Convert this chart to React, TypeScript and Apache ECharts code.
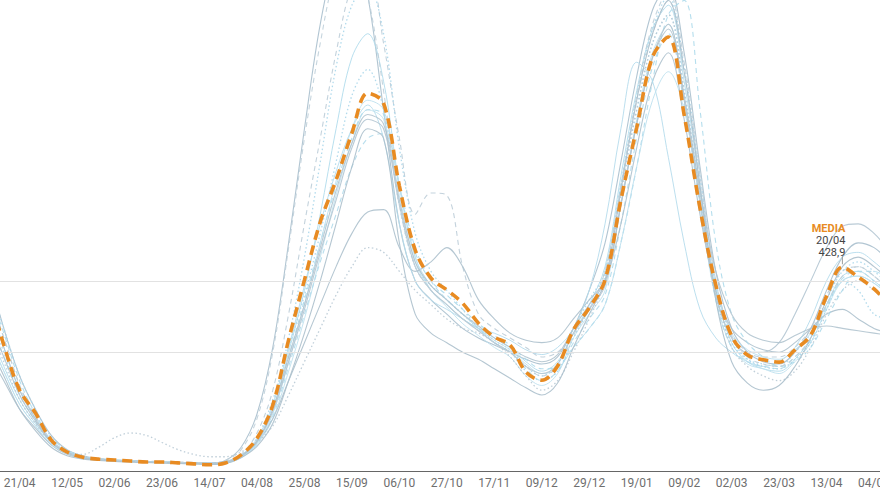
import React, { useEffect, useRef } from "react";
import * as echarts from "echarts";

const weeks = [
  "07/04", "14/04", "21/04", "28/04", "05/05", "12/05", "19/05", "26/05", "02/06", "09/06",
  "16/06", "23/06", "30/06", "07/07", "14/07", "21/07", "28/07", "04/08", "11/08", "18/08",
  "25/08", "01/09", "08/09", "15/09", "22/09", "29/09", "06/10", "13/10", "20/10", "27/10",
  "03/11", "10/11", "17/11", "24/11", "01/12", "09/12", "15/12", "22/12", "29/12", "05/01",
  "12/01", "19/01", "26/01", "02/02", "09/02", "16/02", "23/02", "02/03", "09/03", "16/03",
  "23/03", "30/03", "06/04", "13/04", "20/04", "27/04", "04/05", "11/05",
];

const media = [380, 265, 170, 122, 65, 40, 29, 25, 23, 21, 19, 19, 17, 15, 13, 17, 34, 69, 139, 276,
  402, 524, 612, 711, 795, 774, 600, 465, 406, 381, 353, 311, 282, 265, 208, 191, 221, 297, 343, 402,
  570, 722, 871, 913, 749, 553, 391, 284, 244, 234, 229, 255, 286, 368, 428.9, 408, 383, 349];

const s01 = [420, 300, 200, 130, 75, 45, 32, 26, 22, 20, 19, 18, 17, 16, 16, 22, 50, 120, 260, 480, 720, 940, 1080, 1120, 1000, 760, 520, 400, 360, 330, 300, 280, 265, 250, 235, 225, 240, 300, 380, 480, 650, 830, 970, 1020, 880, 640, 420, 300, 250, 230, 225, 250, 300, 380, 450, 480, 470, 440];
const s02 = [380, 280, 180, 110, 60, 38, 28, 24, 22, 22, 21, 20, 19, 18, 17, 20, 35, 80, 170, 330, 520, 700, 880, 1020, 1060, 900, 700, 540, 585, 580, 430, 330, 300, 280, 260, 240, 250, 290, 340, 420, 600, 780, 920, 990, 840, 620, 400, 290, 250, 240, 240, 260, 300, 370, 420, 430, 410, 380];
const s03 = [300, 220, 150, 100, 60, 40, 30, 26, 24, 22, 20, 19, 18, 17, 16, 18, 30, 60, 130, 250, 380, 540, 720, 870, 920, 820, 600, 450, 380, 350, 320, 300, 280, 260, 230, 210, 230, 290, 350, 430, 620, 800, 930, 980, 820, 600, 380, 270, 230, 215, 210, 235, 280, 350, 410, 420, 400, 370];
const s04 = [340, 250, 160, 110, 62, 40, 28, 24, 22, 20, 19, 18, 17, 16, 15, 18, 32, 70, 150, 260, 370, 500, 650, 790, 845, 760, 560, 430, 390, 360, 330, 300, 275, 255, 220, 200, 225, 300, 360, 420, 600, 760, 900, 960, 800, 580, 370, 270, 235, 225, 220, 250, 290, 360, 420, 440, 420, 390];
const s05 = [280, 210, 140, 95, 55, 36, 27, 23, 21, 20, 18, 17, 16, 15, 14, 16, 28, 55, 110, 210, 320, 450, 580, 690, 760, 740, 580, 440, 380, 345, 310, 285, 260, 240, 200, 180, 205, 280, 330, 380, 560, 740, 880, 940, 780, 560, 360, 260, 225, 215, 205, 230, 270, 340, 400, 410, 395, 365];
const s06 = [390, 290, 190, 120, 70, 44, 30, 25, 22, 20, 19, 19, 18, 17, 16, 18, 30, 58, 115, 220, 330, 440, 540, 640, 700, 710, 600, 470, 400, 360, 330, 300, 270, 250, 215, 190, 210, 270, 320, 370, 520, 700, 850, 920, 770, 560, 360, 260, 230, 220, 215, 240, 275, 345, 405, 420, 400, 375];
const s07 = [250, 190, 130, 90, 55, 35, 27, 24, 22, 21, 20, 19, 18, 18, 17, 20, 32, 60, 110, 190, 270, 350, 430, 500, 545, 550, 470, 420, 440, 470, 430, 360, 320, 290, 275, 270, 280, 320, 360, 400, 520, 680, 820, 880, 740, 540, 380, 300, 270, 255, 250, 270, 300, 330, 340, 320, 300, 290];
const s08 = [310, 230, 150, 100, 60, 40, 35, 50, 70, 80, 75, 60, 45, 35, 30, 30, 40, 60, 95, 160, 230, 300, 370, 430, 470, 460, 420, 380, 350, 320, 300, 290, 270, 240, 200, 170, 190, 250, 320, 400, 580, 760, 900, 960, 800, 580, 380, 260, 220, 200, 190, 210, 260, 330, 380, 400, 380, 350];
const s09 = [360, 260, 170, 115, 65, 42, 30, 25, 22, 21, 20, 19, 18, 17, 16, 19, 33, 68, 140, 260, 390, 520, 630, 720, 770, 700, 520, 400, 360, 340, 320, 300, 290, 275, 255, 245, 260, 300, 380, 520, 720, 860, 820, 660, 480, 340, 280, 250, 230, 220, 230, 260, 320, 400, 450, 460, 440, 410];
const s10 = [330, 240, 160, 105, 60, 38, 28, 24, 22, 21, 20, 19, 18, 17, 16, 18, 30, 62, 130, 240, 360, 480, 600, 700, 760, 750, 600, 460, 400, 370, 340, 310, 285, 265, 235, 215, 220, 260, 300, 350, 480, 640, 820, 960, 990, 760, 480, 330, 270, 240, 220, 230, 260, 320, 380, 420, 420, 400];
const s11 = [290, 210, 140, 95, 56, 37, 27, 23, 21, 20, 19, 18, 17, 16, 15, 17, 29, 58, 120, 230, 350, 480, 610, 720, 780, 760, 600, 450, 390, 360, 330, 300, 275, 255, 225, 205, 215, 260, 300, 350, 480, 640, 780, 840, 760, 580, 390, 290, 255, 240, 235, 255, 290, 350, 400, 410, 395, 370];
const s12 = [400, 300, 200, 130, 72, 44, 30, 25, 22, 20, 19, 18, 17, 16, 15, 17, 30, 65, 140, 280, 450, 650, 850, 980, 1020, 920, 680, 500, 420, 380, 340, 300, 270, 250, 210, 190, 210, 280, 340, 410, 600, 790, 930, 1000, 850, 620, 390, 280, 235, 220, 215, 235, 270, 340, 400, 380, 330, 320];
const s13 = [270, 200, 130, 85, 50, 32, 25, 22, 20, 19, 18, 17, 16, 15, 14, 16, 28, 52, 100, 190, 290, 400, 520, 640, 720, 700, 480, 330, 290, 270, 250, 235, 215, 195, 175, 160, 185, 260, 330, 400, 590, 780, 920, 990, 840, 600, 360, 230, 185, 170, 180, 220, 280, 360, 430, 450, 430, 400];
const s14 = [350, 260, 170, 110, 62, 40, 29, 24, 22, 20, 19, 18, 17, 16, 15, 17, 31, 62, 125, 230, 340, 460, 570, 680, 740, 720, 560, 430, 380, 350, 320, 295, 270, 250, 220, 205, 225, 290, 340, 390, 560, 730, 870, 930, 780, 570, 370, 280, 250, 250, 270, 330, 400, 470, 515, 520, 500, 460];
const s15 = [320, 240, 160, 105, 60, 38, 28, 24, 22, 20, 19, 18, 17, 16, 15, 18, 32, 64, 130, 240, 350, 470, 590, 690, 750, 730, 570, 440, 390, 360, 330, 305, 280, 260, 240, 230, 245, 300, 350, 400, 560, 730, 870, 940, 790, 590, 420, 330, 290, 275, 270, 285, 300, 305, 300, 295, 290, 285];
const s16 = [380, 280, 180, 115, 65, 40, 30, 26, 23, 21, 20, 19, 18, 18, 17, 22, 45, 110, 250, 470, 700, 900, 1050, 1100, 1000, 800, 560, 430, 380, 350, 320, 295, 270, 250, 220, 200, 220, 285, 345, 420, 600, 790, 940, 1010, 860, 630, 400, 285, 240, 225, 220, 240, 280, 350, 410, 430, 410, 380];

const seasons = [s01, s02, s03, s04, s05, s06, s07, s08, s09, s10, s11, s12, s13, s14, s15, s16];
const seasonNames = ["T01", "T02", "T03", "T04", "T05", "T06", "T07", "T08", "T09", "T10", "T11", "T12", "T13", "T14", "T15", "T16"];
const thresholds = [250, 400];

const styles: { color: string; type: any; width: number }[] = [
  { color: "#a9bfcd", type: "solid", width: 1.1 },
  { color: "#bccdd8", type: [5, 4], width: 1.1 },
  { color: "#b0dbec", type: "solid", width: 1 },
  { color: "#a9d6ea", type: [1.5, 2.5], width: 1.3 },
  { color: "#bfe1ee", type: "solid", width: 1 },
  { color: "#b0daeb", type: [5, 4], width: 1.1 },
  { color: "#adc1cd", type: "solid", width: 1.1 },
  { color: "#b9cad5", type: [1.5, 2.5], width: 1.3 },
  { color: "#b5dcec", type: "solid", width: 1 },
  { color: "#addaeb", type: [5, 4], width: 1.1 },
  { color: "#bde0ee", type: "solid", width: 1 },
  { color: "#a8d6ea", type: [1.5, 2.5], width: 1.3 },
  { color: "#acc0cc", type: "solid", width: 1.1 },
  { color: "#b3c5d1", type: "solid", width: 1.1 },
  { color: "#b1c4cf", type: "solid", width: 1.1 },
  { color: "#c0d0da", type: [5, 4], width: 1.1 },
];

export default function App() {
  const ref = useRef<HTMLDivElement>(null);
  useEffect(() => {
    if (!ref.current) return;
    const chart = echarts.init(ref.current, null, { renderer: "svg" });
    const series: any[] = [
      {
        name: "umbral",
        type: "line",
        data: [],
        z: 1,
        silent: true,
        markLine: {
          silent: true,
          symbol: "none",
          label: { show: false },
          lineStyle: { color: "#e2e2e2", type: "solid", width: 1 },
          data: thresholds.map((v) => ({ yAxis: v })),
        },
      },
      ...seasons.map((d, i) => ({
        name: seasonNames[i],
        type: "line",
        data: d,
        smooth: 0.35,
        symbol: "none",
        z: 2,
        lineStyle: { color: styles[i].color, type: styles[i].type, width: styles[i].width, opacity: 0.9 },
      })),
      {
        name: "MEDIA",
        type: "line",
        data: media,
        smooth: 0.35,
        symbol: "none",
        z: 5,
        lineStyle: { color: "#e88b22", width: 3.6, type: [10, 6] },
        markPoint: {
          symbol: "rect",
          symbolSize: [1, 8],
          symbolOffset: [0, -7],
          itemStyle: { color: "#9a9a9a" },
          data: [
            {
              coord: [54, 428.9],
              label: {
                show: true,
                position: "top",
                distance: 1,
                align: "right",
                offset: [3, 3],
                formatter: "{a|MEDIA}\n{b|20/04}\n{b|428,9}",
                rich: {
                  a: { color: "#e88b22", fontWeight: "bold", fontSize: 11, fontFamily: "Roboto", lineHeight: 12, align: "right" },
                  b: { color: "#444", fontSize: 11, fontFamily: "Roboto", lineHeight: 12, align: "right" },
                },
              },
            },
          ],
        },
      },
    ];
    chart.setOption({
      animation: false,
      grid: { left: 0, right: 0, top: 0.7, bottom: 24, containLabel: false },
      xAxis: {
        type: "category",
        data: weeks,
        boundaryGap: false,
        axisLine: { lineStyle: { color: "#666", width: 1 } },
        axisTick: { show: false },
        axisLabel: {
          interval: (idx: number) => (idx - 2) % 3 === 0,
          color: "#6e6e6e",
          fontSize: 12,
          fontFamily: "Roboto",
          margin: 6,
        },
        splitLine: { show: false },
      },
      yAxis: {
        type: "value",
        min: 0,
        max: 1000,
        show: false,
        splitLine: { show: false },
      },
      series,
    });
    return () => chart.dispose();
  }, []);
  return (
    <div style={{ position: "fixed", left: 0, top: 0, width: 880, height: 495, overflow: "hidden", background: "#fff" }}>
      <div
        ref={ref}
        style={{ position: "absolute", left: -12, top: -5, width: 905, height: 500 }}
      />
    </div>
  );
}
